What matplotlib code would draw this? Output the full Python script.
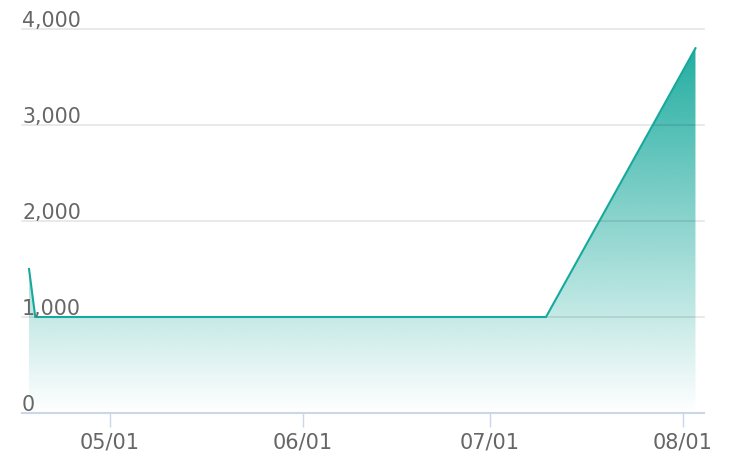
import numpy as np
import pandas as pd
import matplotlib
matplotlib.use("Agg")
import matplotlib.pyplot as plt
import matplotlib.dates as mdates
from matplotlib.patches import Polygon

# data
dates = ['2023-04-18', '2023-04-19', '2023-07-10', '2023-08-03']
values = [1500, 1000, 1000, 3800]
yticks = [0, 1000, 2000, 3000, 4000]

x = mdates.date2num(pd.to_datetime(dates))
y = np.array(values, dtype=float)

lineColor = '#17a99c'
textColor = '#666666'

fig = plt.figure(figsize=(7.32, 4.68), dpi=100)
ax = fig.add_axes([22 / 732, 1 - 413 / 468, (704 - 22) / 732, (413 - 29) / 468])

ax.set_xlim(x[0] - 1.13, x[-1] + 1.37)
ax.set_ylim(0, 4000)

# gradient fill under the line: fixed teal, alpha fading to 0 at the bottom
n = 256
rgba = np.zeros((n, 1, 4))
rgba[:, 0, 0] = 23 / 255
rgba[:, 0, 1] = 169 / 255
rgba[:, 0, 2] = 156 / 255
rgba[:, 0, 3] = np.linspace(0, 0.95, n)
im = ax.imshow(rgba, aspect='auto', origin='lower',
               extent=[x[0], x[-1], 0, y.max()], zorder=1, interpolation='bilinear')
poly = Polygon(np.column_stack([np.r_[x[0], x, x[-1]], np.r_[0, y, 0]]),
               closed=True, facecolor='none', edgecolor='none')
ax.add_patch(poly)
im.set_clip_path(poly)

ax.plot(x, y, color=lineColor, linewidth=1.5, zorder=3, solid_joinstyle='miter')

# grid lines
for t in yticks[1:]:
    ax.axhline(t, color='#000000', alpha=0.1, linewidth=1.2, zorder=2, clip_on=False)

# y labels inside the plot, above their grid line
for t in yticks:
    ax.text(0, t + 22, f'{t:,}', transform=ax.get_yaxis_transform(),
            ha='left', va='baseline', fontsize=14.8, color=textColor, zorder=4)
ax.set_yticks([])

ax.xaxis.set_major_locator(mdates.MonthLocator())
ax.xaxis.set_major_formatter(mdates.DateFormatter('%m/%d'))
ax.tick_params(axis='x', length=10, width=1, color='#ccd6eb', labelsize=15,
               labelcolor=textColor, pad=4)

for side in ['top', 'right', 'left']:
    ax.spines[side].set_visible(False)
ax.spines['bottom'].set_color('#ccd6eb')
ax.spines['bottom'].set_linewidth(1.5)

plt.savefig('out.png', dpi=100)
